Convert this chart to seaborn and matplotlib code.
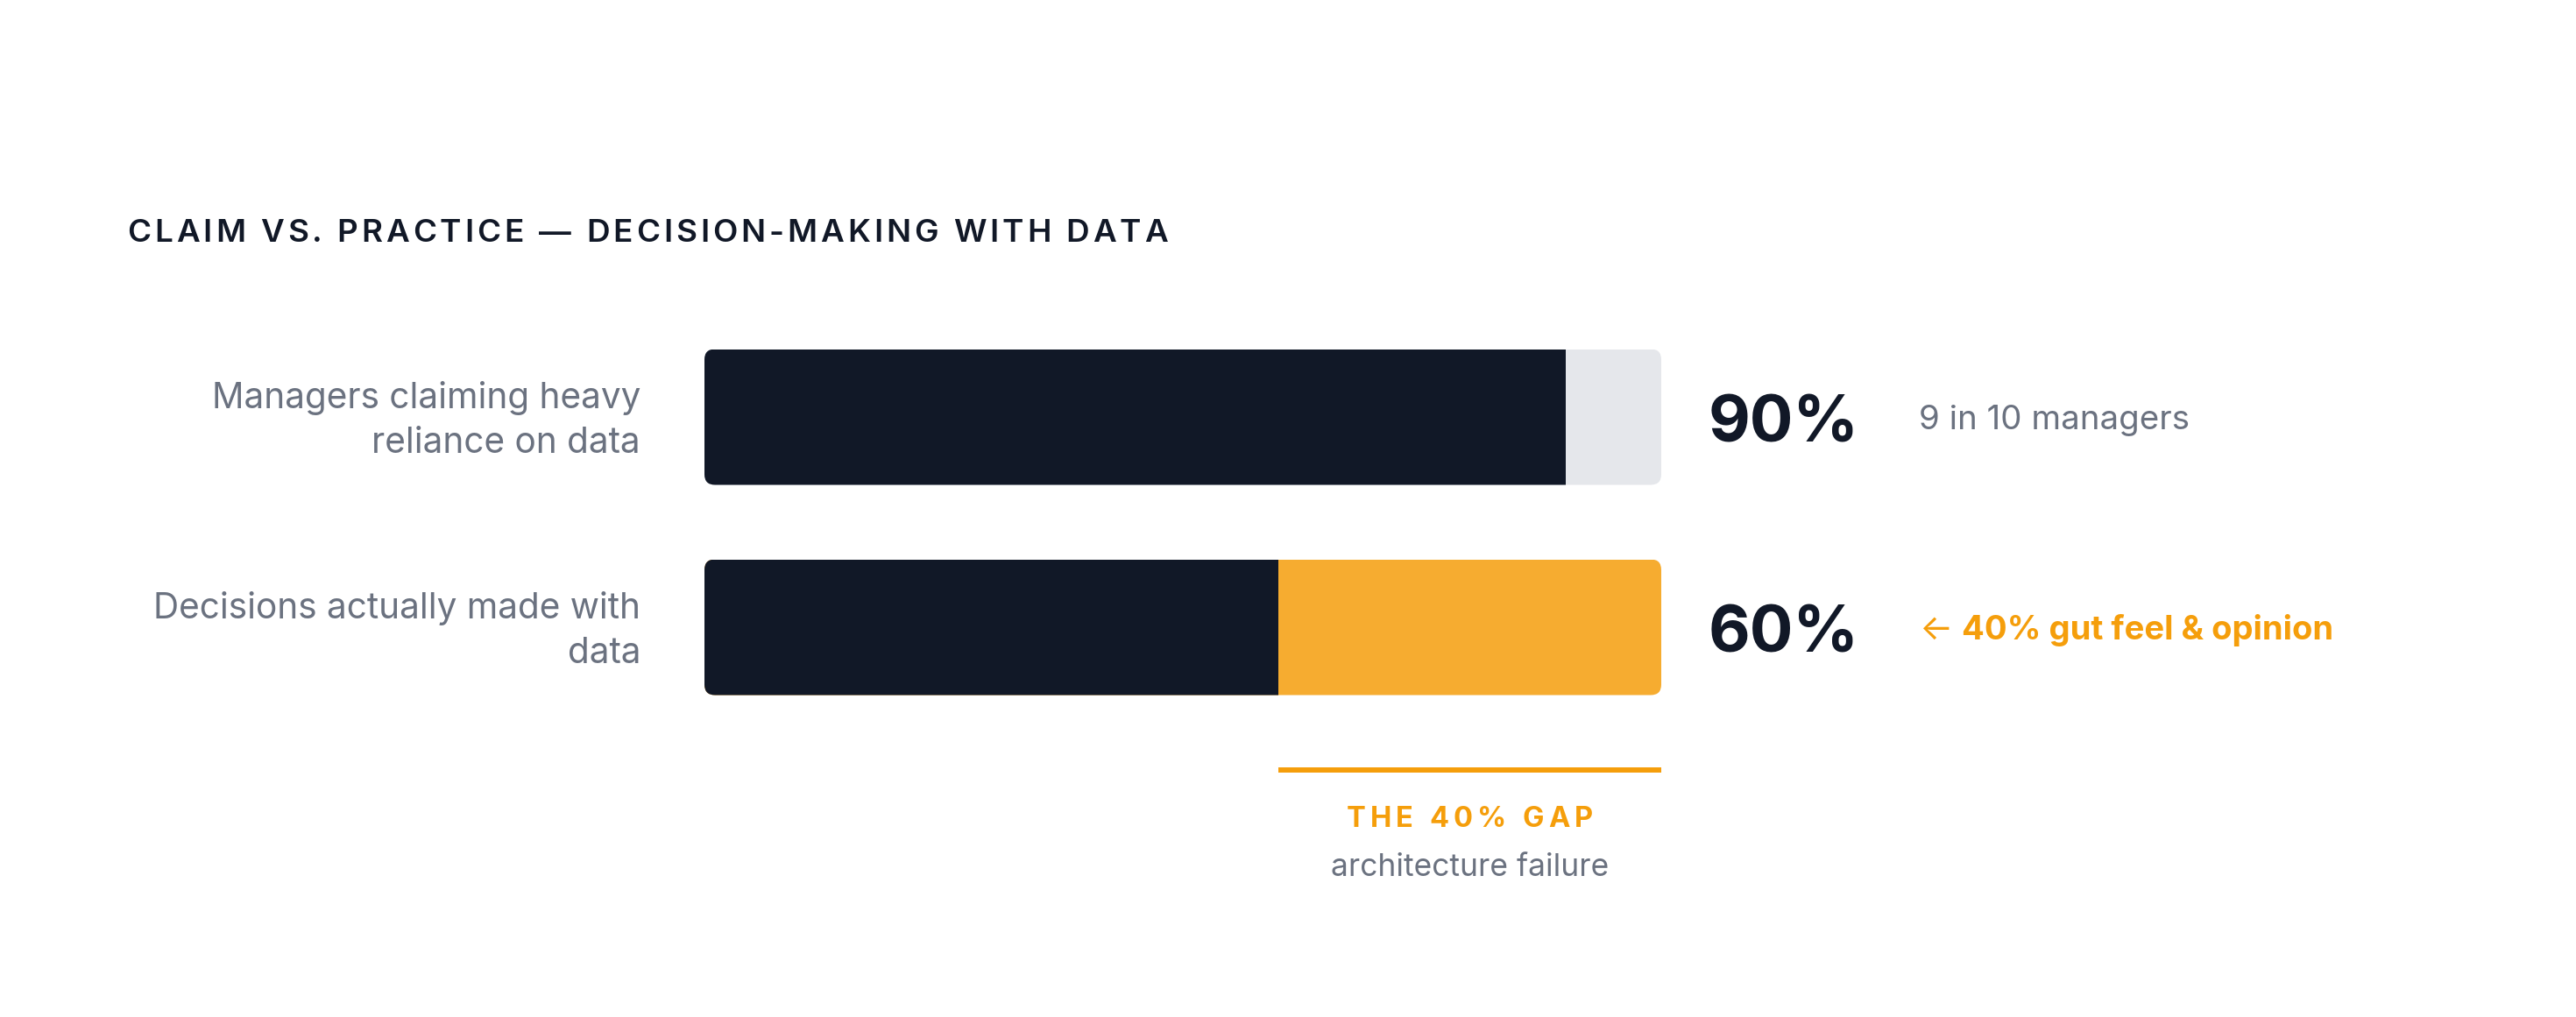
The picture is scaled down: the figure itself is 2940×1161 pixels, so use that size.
import numpy as np
import pandas as pd
import matplotlib
matplotlib.use("Agg")
import matplotlib.pyplot as plt
import seaborn as sns
from matplotlib.patches import FancyBboxPatch

# data
labels = ["Managers claiming heavy\nreliance on data", "Decisions actually made with\ndata"]
with_data = [90, 60]
total = [100, 100]
value_text = ["90%", "60%"]
notes = ["9 in 10 managers", "\u2190 40% gut feel & opinion"]
title = "CLAIM VS. PRACTICE \u2014 DECISION-MAKING WITH DATA"
gap_title = "THE 40% GAP"
gap_sub = "architecture failure"

DARK = "#111827"
TRACK = "#E5E7EB"
ORANGE = "#F59E0B"
ORANGE_BAR = "#F6AC30"
GREY = "#6B7280"

sns.set_style("white")
plt.rcParams["font.family"] = ["Inter", "DejaVu Sans"]

W, H = 2940, 1161
fig = plt.figure(figsize=(W / 100, H / 100), dpi=100)
ax = fig.add_axes([804 / W, 1 - 836 / H, 1092 / W, 480 / H])

df = pd.DataFrame({"label": labels, "total": total, "value": with_data})
BAR_H = 155 / 240

sns.barplot(data=df, x="total", y="label", hue="label", palette=[TRACK, ORANGE_BAR],
            width=BAR_H, linewidth=0, saturation=1, legend=False, ax=ax)
sns.barplot(data=df, x="value", y="label", color=DARK,
            width=BAR_H, linewidth=0, saturation=1, ax=ax)

ax.set_xlim(0, 100)
ax.set_ylim(1.5, -0.5)
ax.set_xticks([])
ax.set_xlabel("")
ax.set_ylabel("")
# labels sit a touch above the bar centre
ax.set_yticks(np.arange(len(labels)) - 7 / 240, labels=labels)
sns.despine(ax=ax, left=True, bottom=True)
ax.tick_params(axis="y", length=0, pad=52.5, labelsize=29.2, labelcolor=GREY)
for t in ax.get_yticklabels():
    t.set_linespacing(1.45)

# rounded corners: clip every bar to a rounded track per row
rx = 12 * 100 / 1092
ry = 12 / 240
clips = []
for i in range(len(labels)):
    c = FancyBboxPatch((0, i - BAR_H / 2), 100, BAR_H,
                       boxstyle=f"round,pad=0,rounding_size={rx}",
                       mutation_aspect=ry / rx, transform=ax.transData)
    clips.append(c)
for p in ax.patches:
    row = int(round(p.get_y() + p.get_height() / 2))
    p.set_clip_path(clips[row])

renderer = fig.canvas.get_renderer()

for i, (vt, note) in enumerate(zip(value_text, notes)):
    ax.text(104.9, i + 0.119, vt, va="baseline", ha="left", fontsize=53,
            fontweight="bold", color=DARK, clip_on=False)
    if note.startswith("\u2190"):
        arrow = ax.text(126.9, i + 0.058, "\u2190", va="baseline", ha="left",
                        fontsize=29, color=ORANGE, clip_on=False)
        aw = arrow.get_window_extent(renderer).width
        ax.text(126.9 + (aw + 11) * 100 / 1092, i + 0.058, note[2:], va="baseline",
                ha="left", fontsize=27.5, fontweight="bold", color=ORANGE, clip_on=False)
    else:
        ax.text(126.9, i + 0.058, note, va="baseline", ha="left", fontsize=27.7,
                color=GREY, clip_on=False)

# gap bracket
ax.plot([with_data[1], total[1]], [1.679, 1.679], color=ORANGE, lw=4.3,
        solid_capstyle="butt", clip_on=False)
ax.text((with_data[1] + total[1]) / 2, 2.183, gap_sub, ha="center", va="baseline",
        fontsize=25.5, color=GREY, clip_on=False)


def spaced(s, x_px, y_px, target_w, size, color, weight="bold", ha="left"):
    probe = fig.text(0, 0, "I", fontsize=size, fontweight=weight)
    wI = probe.get_window_extent(renderer).width
    probe.remove()

    def adv(prefix):
        t = fig.text(0, 0, prefix + "I", fontsize=size, fontweight=weight)
        w = t.get_window_extent(renderer).width
        t.remove()
        return w - wI

    offs = [adv(s[:i]) for i in range(len(s))]
    natural = adv(s)
    gap = (target_w - natural) / (len(s) - 1)
    x0 = x_px - target_w / 2 if ha == "center" else x_px
    for i, ch in enumerate(s):
        if ch == " ":
            continue
        fig.text((x0 + offs[i] + i * gap) / W, 1 - y_px / H, ch, fontsize=size,
                 fontweight=weight, color=color, va="baseline", ha="left")


# baselines: cap centre + half cap height
spaced(title, 145, 263 + 13.5, 1188, 26.5, DARK, weight=600)
spaced(gap_title, 1677, 932 + 11.5, 281, 23.5, ORANGE, weight="bold", ha="center")

fig.savefig("out.png", dpi=100, facecolor="white")
